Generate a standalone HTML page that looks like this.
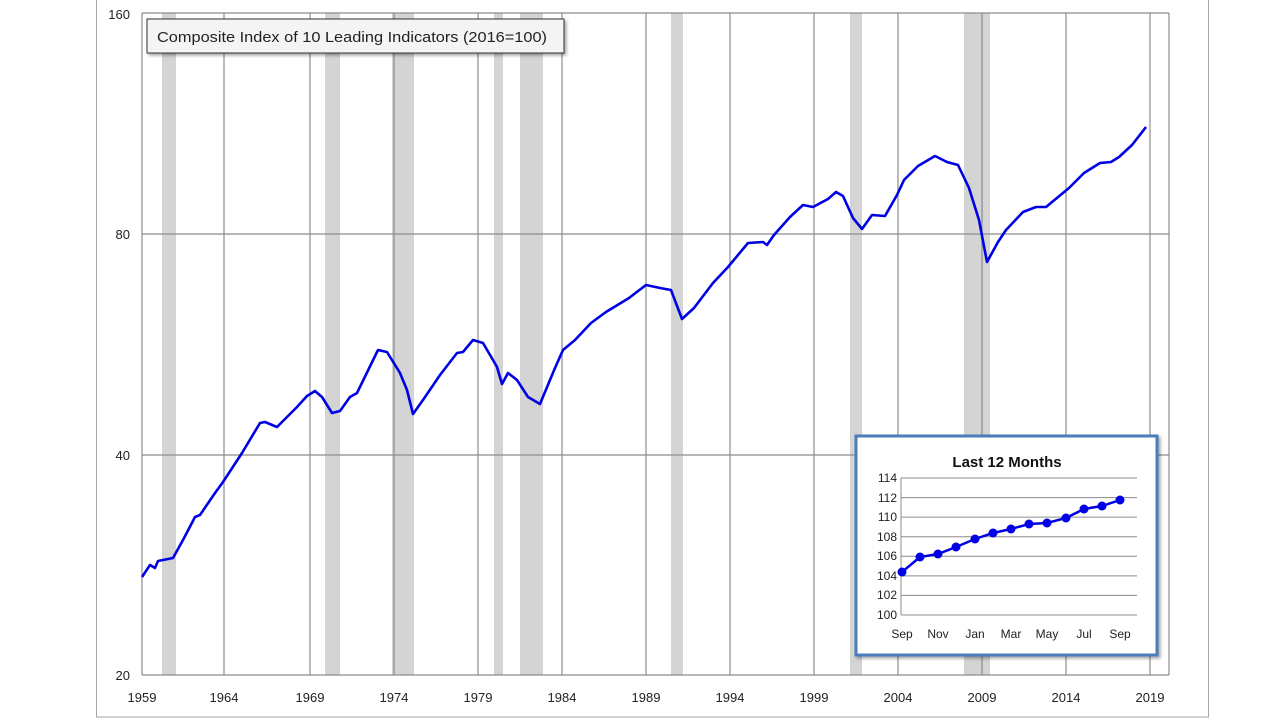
<!DOCTYPE html>
<html><head><meta charset="utf-8"><style>
body{margin:0;background:#fff;width:1280px;height:720px;overflow:hidden}
svg{display:block;font-family:"Liberation Sans",sans-serif}
</style></head><body>
<svg width="1280" height="720" viewBox="0 0 1280 720">
<defs><filter id="sh" x="-10%" y="-10%" width="130%" height="150%"><feDropShadow dx="2" dy="2" stdDeviation="1.5" flood-color="#000" flood-opacity="0.35"/></filter></defs>
<rect x="96.5" y="-2" width="1112" height="719" fill="#fff" stroke="#a6a6a6" stroke-width="1"/>
<g fill="#d4d4d4">
<rect x="162" y="13" width="14" height="662"/><rect x="325" y="13" width="15" height="662"/>
<rect x="392" y="13" width="22" height="662"/><rect x="494" y="13" width="9" height="662"/>
<rect x="520" y="13" width="23" height="662"/><rect x="671" y="13" width="12" height="662"/>
<rect x="850" y="13" width="12" height="662"/><rect x="964" y="13" width="26" height="662"/>
</g>
<g stroke="#8c8c8c" stroke-width="1.2">
<line x1="142" y1="13" x2="1169" y2="13"/><line x1="142" y1="234" x2="1169" y2="234"/>
<line x1="142" y1="455" x2="1169" y2="455"/><line x1="142" y1="675" x2="1169" y2="675"/>
<line x1="142" y1="13" x2="142" y2="675"/><line x1="1169" y1="13" x2="1169" y2="675"/>
<line x1="224" y1="13" x2="224" y2="675"/><line x1="310" y1="13" x2="310" y2="675"/>
<line x1="394" y1="13" x2="394" y2="675"/><line x1="478" y1="13" x2="478" y2="675"/>
<line x1="562" y1="13" x2="562" y2="675"/><line x1="646" y1="13" x2="646" y2="675"/>
<line x1="730" y1="13" x2="730" y2="675"/><line x1="814" y1="13" x2="814" y2="675"/>
<line x1="898" y1="13" x2="898" y2="675"/><line x1="982" y1="13" x2="982" y2="675"/>
<line x1="1066" y1="13" x2="1066" y2="675"/><line x1="1150" y1="13" x2="1150" y2="675"/>
</g>
<g font-size="13" fill="#222" text-anchor="end">
<text x="130" y="19">160</text><text x="130" y="239">80</text><text x="130" y="460">40</text><text x="130" y="680">20</text>
</g>
<g font-size="13" fill="#222" text-anchor="middle">
<text x="142" y="702">1959</text><text x="224" y="702">1964</text><text x="310" y="702">1969</text><text x="394" y="702">1974</text>
<text x="478" y="702">1979</text><text x="562" y="702">1984</text><text x="646" y="702">1989</text><text x="730" y="702">1994</text>
<text x="814" y="702">1999</text><text x="898" y="702">2004</text><text x="982" y="702">2009</text><text x="1066" y="702">2014</text><text x="1150" y="702">2019</text>
</g>
<polyline fill="none" stroke="#0000e6" stroke-width="2.6" stroke-linejoin="round" points="142,577 150,565 155,568 158,561 173,558 183,540 195,517 200,515 215,493 223,482 242,453 260,423 265,422 277,427 287,417 297,407 307,396 315,391 322,397 332,413 340,411 350,397 357,393 378,350 387,352 400,373 407,390 413,414 423,400 440,375 457,353 463,352 473,340 483,343 493,360 497,367 502,384 508,373 517,380 528,397 540,404 555,368 563,350 575,340 591,323 606,312 629,298 646,285 660,288 671,290 682,319 694,308 713,283 728,267 748,243 763,242 767,245 774,235 790,217 803,205 813,207 828,199 836,192 843,196 853,218 862,229 872,215 885,216 897,195 904,180 918,166 935,156 947,162 958,165 969,188 979,220 987,262 998,242 1006,230 1023,212 1036,207 1046,207 1069,188 1084,173 1100,163 1111,162 1119,157 1132,145 1146,127"/>
<rect x="147" y="19" width="417" height="34" fill="#f4f4f4" stroke="#333" stroke-width="1" filter="url(#sh)"/>
<text x="157" y="42" font-size="15" fill="#222" textLength="390" lengthAdjust="spacingAndGlyphs">Composite Index of 10 Leading Indicators (2016=100)</text>
<rect x="856" y="436" width="301" height="219" fill="#fff" stroke="#4a7ebb" stroke-width="3" filter="url(#sh)"/>
<text x="1007" y="467" font-size="15" font-weight="bold" text-anchor="middle" fill="#111">Last 12 Months</text>
<g stroke="#8c8c8c" stroke-width="1">
<line x1="901" y1="478" x2="1137" y2="478"/><line x1="901" y1="497.6" x2="1137" y2="497.6"/>
<line x1="901" y1="517.1" x2="1137" y2="517.1"/><line x1="901" y1="536.7" x2="1137" y2="536.7"/>
<line x1="901" y1="556.3" x2="1137" y2="556.3"/><line x1="901" y1="575.9" x2="1137" y2="575.9"/>
<line x1="901" y1="595.4" x2="1137" y2="595.4"/><line x1="901" y1="615" x2="1137" y2="615"/>
<line x1="901" y1="478" x2="901" y2="615"/>
</g>
<g font-size="12" fill="#222" text-anchor="end">
<text x="897" y="482">114</text><text x="897" y="502">112</text><text x="897" y="521">110</text><text x="897" y="541">108</text>
<text x="897" y="560">106</text><text x="897" y="580">104</text><text x="897" y="599">102</text><text x="897" y="619">100</text>
</g>
<g font-size="12" fill="#222" text-anchor="middle">
<text x="902" y="638">Sep</text><text x="938" y="638">Nov</text><text x="975" y="638">Jan</text><text x="1011" y="638">Mar</text>
<text x="1047" y="638">May</text><text x="1084" y="638">Jul</text><text x="1120" y="638">Sep</text>
</g>
<g fill="#0000e6">
<polyline fill="none" stroke="#0000e6" stroke-width="2.5" points="902,572 920,557 938,554 956,547 975,539 993,533 1011,529 1029,524 1047,523 1066,518 1084,509 1102,506 1120,500"/>
<circle cx="902" cy="572" r="4.5"/><circle cx="920" cy="557" r="4.5"/><circle cx="938" cy="554" r="4.5"/><circle cx="956" cy="547" r="4.5"/>
<circle cx="975" cy="539" r="4.5"/><circle cx="993" cy="533" r="4.5"/><circle cx="1011" cy="529" r="4.5"/><circle cx="1029" cy="524" r="4.5"/>
<circle cx="1047" cy="523" r="4.5"/><circle cx="1066" cy="518" r="4.5"/><circle cx="1084" cy="509" r="4.5"/><circle cx="1102" cy="506" r="4.5"/><circle cx="1120" cy="500" r="4.5"/>
</g>
</svg>
</body></html>
